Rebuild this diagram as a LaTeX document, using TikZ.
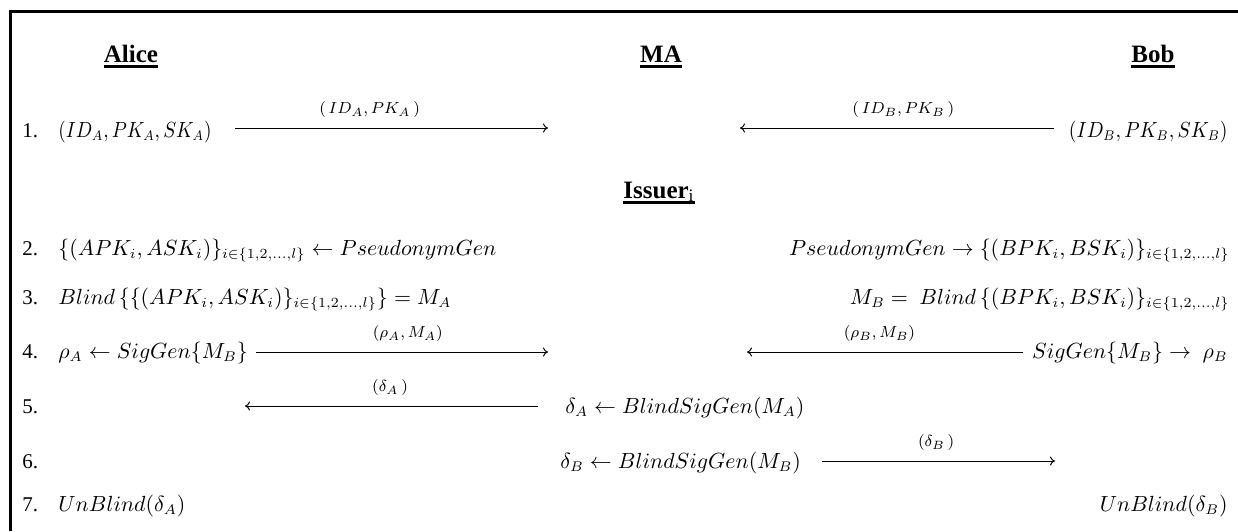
\documentclass[tikz,border=0pt]{standalone}
\usepackage{fontspec}
\setmainfont{Liberation Serif}
\usetikzlibrary{arrows.meta}
\begin{document}
\begin{tikzpicture}[x=0.5pt,y=-0.5pt,
  txt/.style={inner sep=0pt, font=\fontsize{10.6}{12}\selectfont},
  hdr/.style={inner sep=0pt, anchor=base, font=\fontsize{12.5}{15}\selectfont\bfseries},
  num/.style={inner sep=0pt, anchor=base west, font=\fontsize{10.5}{12}\selectfont},
  msg/.style={line width=0.5pt, -{To[length=2.5pt,width=4.5pt]}},
  lbl/.style={inner sep=0pt, above=5pt, font=\fontsize{8.3}{10}\selectfont},
  uline/.style={line width=1.2pt}
]
\useasboundingbox (0,0) rectangle (1238,531);
\draw[line width=1.5pt] (10,531) -- (10,11) -- (1238,11);

% headers
\node[hdr] (alice) at (131,62) {Alice};
\node[hdr] (ma) at (661,62) {MA};
\node[hdr] (bob) at (1153,62) {Bob};
\node[hdr] (issuer) at (659,198) {Issuer\textsubscript{\mdseries i}};
\foreach \h in {alice,ma,bob,issuer}
  \draw[uline] ([yshift=-2.2pt]\h.base west) -- ([yshift=-2.2pt]\h.base east);

% row 1
\node[num] (n1) at (22,137) {1.};
\node[txt, anchor=base west] (r1a) at (58,137) {\scalebox{0.88}[1]{$(ID_A,PK_A,SK_A)$}};
\node[txt, anchor=base east] (r1b) at (1228,137) {\scalebox{0.9}[1]{$(ID_B,PK_B,SK_B)$}};
\coordinate (s1a) at (235,128); \coordinate (e1a) at (548,128);
\coordinate (s1b) at (1054,128); \coordinate (e1b) at (740,128);
\draw[msg] (s1a) -- node[lbl, pos=0.43]{$(\,ID_A,PK_A\,)$} (e1a);
\draw[msg] (s1b) -- node[lbl, pos=0.48]{$(\,ID_B,PK_B\,)$} (e1b);

% row 2
\node[num] (n2) at (22,255) {2.};
\node[txt, anchor=base west] (r2a) at (58,255) {$\{(APK_i,ASK_i)\}_{i\in\{1,2,\dots,l\}}\leftarrow PseudonymGen$};
\node[txt, anchor=base east] (r2b) at (1230,255) {$PseudonymGen\rightarrow\{(BPK_i,BSK_i)\}_{i\in\{1,2,\dots,l\}}$};

% row 3
\node[num] (n3) at (22,304) {3.};
\node[txt, anchor=base west] (r3a) at (58,304) {$Blind\,\bigl\{\{(APK_i,ASK_i)\}_{i\in\{1,2,\dots,l\}}\bigr\}=M_A$};
\node[txt, anchor=base east] (r3b) at (1230,304) {$M_B=\ Blind\,\{(BPK_i,BSK_i)\}_{i\in\{1,2,\dots,l\}}$};

% row 4
\node[num] (n4) at (22,358) {4.};
\node[txt, anchor=base west] (r4a) at (58,358) {$\rho_A\leftarrow SigGen\{M_B\}$};
\node[txt, anchor=base east] (r4b) at (1228,358) {$SigGen\{M_B\}\rightarrow\ \rho_B$};
\coordinate (s4a) at (256,352); \coordinate (e4a) at (548,352);
\coordinate (s4b) at (1023,352); \coordinate (e4b) at (747,352);
\draw[msg] (s4a) -- node[lbl, pos=0.52]{$(\rho_A,M_A)$} (e4a);
\draw[msg] (s4b) -- node[lbl, pos=0.52]{$(\rho_B,M_B)$} (e4b);

% row 5
\node[num] (n5) at (22,413) {5.};
\node[txt, anchor=base west] (r5) at (565,413) {$\delta_A\leftarrow BlindSigGen(M_A)$};
\coordinate (s5) at (538,406); \coordinate (e5) at (245,406);
\draw[msg] (s5) -- node[lbl, pos=0.505]{$(\delta_A\,)$} (e5);

% row 6
\node[num] (n6) at (22,468) {6.};
\node[txt, anchor=base west] (r6) at (560,468) {$\delta_B\leftarrow BlindSigGen(M_B)$};
\coordinate (s6) at (822,461); \coordinate (e6) at (1055,461);
\draw[msg] (s6) -- node[lbl, pos=0.49]{$(\delta_B\,)$} (e6);

% row 7
\node[num] (n7) at (22,511) {7.};
\node[txt, anchor=base west] (r7a) at (58,511) {$UnBlind(\delta_A)$};
\node[txt, anchor=base east] (r7b) at (1228,511) {$UnBlind(\delta_B)$};
\end{tikzpicture}
\end{document}
